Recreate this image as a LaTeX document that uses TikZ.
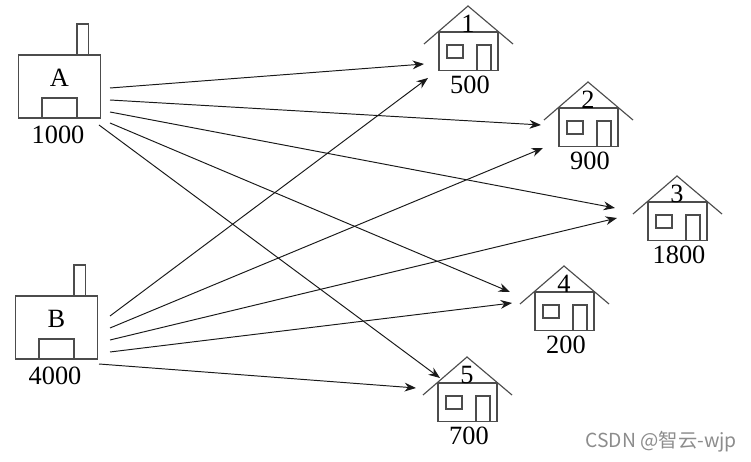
\documentclass[tikz,border=0pt]{standalone}
\usepackage{fontspec}
\setmainfont{Liberation Serif}
\newfontfamily\cjkmark{Noto Sans CJK SC}
\usetikzlibrary{arrows.meta}
\tikzset{
  wire/.style={line width=0.65pt,color=black!70},
  flow/.style={line width=0.55pt,color=black!90,-{Stealth[length=6.5pt,width=5pt]}},
  numtext/.style={font=\fontsize{15}{16}\selectfont,inner sep=0pt},
  pics/house/.style 2 args={code={
    \draw[wire] (-44,38) -- (0,0) -- (45,38);
    \draw[wire] (-29,26) rectangle (30,64.5);
    \draw[wire] (-21,39) rectangle (-5,52);
    \draw[wire] (9,64.5) -- (9,39) -- (23,39) -- (23,64.5);
    \node[numtext] (-num) at (0,18) {#1};
    \node[numtext] (-val) at (2,79) {#2};
  }},
  pics/factory/.style 2 args={code={
    \draw[wire] (0,0) rectangle (82,63);
    \draw[wire] (58.5,0) -- (58.5,-31) -- (70,-31) -- (70,0);
    \draw[wire] (23.5,63) -- (23.5,43) -- (58.5,43) -- (58.5,63);
    \node[numtext] (-name) at (41,23) {#1};
    \node[numtext] (-val) at (39.5,80) {#2};
  }}
}
\begin{document}
\begin{tikzpicture}[x=0.02cm,y=-0.02cm]
\useasboundingbox (0,0) rectangle (751,462);

\pic (FA) at (18.5,55) {factory={A}{1000}};
\pic (FB) at (15.5,296) {factory={B}{4000}};

\pic (H1) at (468,6) {house={1}{500}};
\pic (H2) at (588,82) {house={2}{900}};
\pic (H3) at (677,176) {house={3}{1800}};
\pic (H4) at (564,266) {house={4}{200}};
\pic (H5) at (467,357) {house={5}{700}};

\coordinate (A1) at (110,88);
\coordinate (A2) at (110,100);
\coordinate (A3) at (110,112);
\coordinate (A4) at (110,123);
\coordinate (A5) at (99,125);
\coordinate (B1) at (110,316);
\coordinate (B2) at (110,328);
\coordinate (B3) at (110,340);
\coordinate (B4) at (110,352);
\coordinate (B5) at (99,364);
\coordinate (T1a) at (424,64);
\coordinate (T2a) at (541,125);
\coordinate (T3a) at (615,208);
\coordinate (T4a) at (510,292);
\coordinate (T5a) at (440,378);
\coordinate (T1b) at (428,78);
\coordinate (T2b) at (543,148);
\coordinate (T3b) at (617,218);
\coordinate (T4b) at (512,303);
\coordinate (T5b) at (416,388);

\draw[flow] (A1) -- (T1a);
\draw[flow] (A2) -- (T2a);
\draw[flow] (A3) -- (T3a);
\draw[flow] (A4) -- (T4a);
\draw[flow] (A5) -- (T5a);
\draw[flow] (B1) -- (T1b);
\draw[flow] (B2) -- (T2b);
\draw[flow] (B3) -- (T3b);
\draw[flow] (B4) -- (T4b);
\draw[flow] (B5) -- (T5b);

\node[font=\fontsize{11}{12}\selectfont\cjkmark,color=black!45,anchor=east,inner sep=0pt] (mark) at (737,442) {CSDN @智云-wjp};
\end{tikzpicture}
\end{document}
